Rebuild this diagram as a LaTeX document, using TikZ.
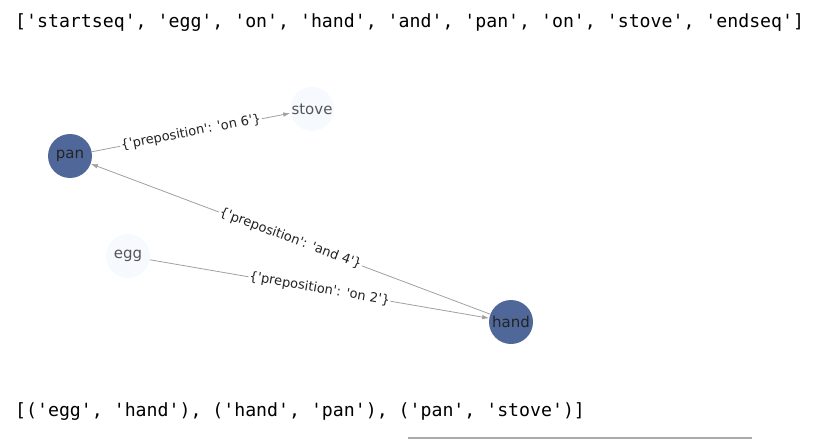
\documentclass[tikz,border=0pt]{standalone}
\usepackage{fontspec}
\usetikzlibrary{arrows.meta}
\newfontfamily\monofnt{DejaVu Sans Mono}[Ligatures=TeXOff]
\newfontfamily\labfnt{DejaVu Sans}[Ligatures=TeXOff]
\definecolor{darknode}{RGB}{80,104,153}
\definecolor{lightnode}{RGB}{246,250,255}
\definecolor{edgegray}{RGB}{160,160,160}
\definecolor{labtext}{RGB}{35,35,35}
\tikzset{
  gnode/.style={circle, minimum size=44pt, inner sep=0pt, font=\labfnt\fontsize{15}{17}\selectfont, text=labtext},
  darkn/.style={gnode, fill=darknode},
  lightn/.style={gnode, fill=lightnode, text={rgb,255:red,85;green,85;blue,85}},
  gedge/.style={draw=edgegray, line width=0.8pt, -{Latex[length=7pt,width=4.5pt]}},
  elabel/.style={sloped, fill=white, inner sep=1pt, text=labtext, font=\labfnt\fontsize{13}{15}\selectfont},
  listtext/.style={anchor=base west, inner sep=0pt, font=\monofnt\fontsize{18.2}{20}\selectfont, text=black}
}
\begin{document}
\begin{tikzpicture}[x=1pt,y=-1pt]
\useasboundingbox (0,0) rectangle (818,441);
\node[listtext] (top) at (15,28) {['startseq', 'egg', 'on', 'hand', 'and', 'pan', 'on', 'stove', 'endseq']};
\node[listtext] (bot) at (15,416) {[('egg', 'hand'), ('hand', 'pan'), ('pan', 'stove')]};
\node[darkn] (pan) at (70,156) {pan};
\node[lightn] (stove) at (312,109) {stove};
\node[lightn] (egg) at (128,256) {egg};
\node[darkn] (hand) at (511,322) {hand};
\draw[gedge] (pan) -- node[elabel] (l1) {\{'preposition': 'on 6'\}} (stove);
\draw[gedge] (hand) -- node[elabel] (l2) {\{'preposition': 'and 4'\}} (pan);
\draw[gedge] (egg) -- node[elabel] (l3) {\{'preposition': 'on 2'\}} (hand);
\coordinate (ra) at (408,438);
\coordinate (rb) at (752,438);
\draw[line width=2pt, draw={rgb,255:red,170;green,170;blue,170}] (ra) -- (rb);
\end{tikzpicture}
\end{document}
